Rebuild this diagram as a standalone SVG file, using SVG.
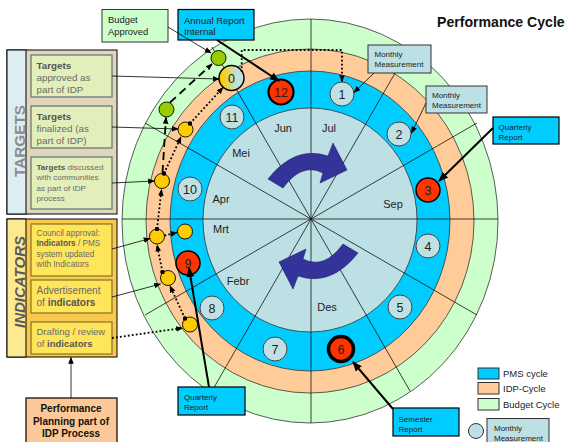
<svg xmlns="http://www.w3.org/2000/svg" width="565" height="442" viewBox="0 0 565 442">
<style>
text{font-family:"Liberation Sans",Arial,sans-serif}
.ring{stroke:#333;stroke-width:0.8}
.rad{stroke:#111;stroke-width:0.8;fill:none}
.mon{font-size:11px;fill:#222;text-anchor:middle}
.num{font-size:12.5px;fill:#222;text-anchor:middle}
.mc{fill:#bfe1e6;stroke:#444;stroke-width:1}
.rc{fill:#ff3300;stroke:#000;stroke-width:1.5}
.yc{fill:#ffcc00;stroke:#000;stroke-width:0.9}
.gc{fill:#99cc00;stroke:#000;stroke-width:0.9}
.ln{stroke:#000;stroke-width:0.8;fill:none}
.thick{stroke:#000;stroke-width:2;fill:none}
.dot{stroke:#000;stroke-width:1.8;stroke-dasharray:1.8 2.2;fill:none}
.dash{stroke:#000;stroke-width:1.8;stroke-dasharray:8 5;fill:none}
.tb{fill:#e2efbb;stroke:#5f7f78;stroke-width:1.3}
.ib{fill:#ffe55a;stroke:#8c7a2a;stroke-width:1.3}
.bt{fill:#6a6a6a}
.bb{font-weight:bold;fill:#555}
.sm{font-size:8px;fill:#222}
.cy{fill:#00ccff;stroke:#000;stroke-width:1.2}
.mm{fill:#bde0e4;stroke:#333;stroke-width:1}
.arw{fill:#333399;stroke:#22226a;stroke-width:0.6}
</style>
<defs>
<linearGradient id="g0" x1="0" y1="0" x2="1" y2="0"><stop offset="0.1" stop-color="#ffcc00"/><stop offset="0.75" stop-color="#bfe1e6"/></linearGradient>
<marker id="a" viewBox="0 0 10 10" refX="9" refY="5" markerWidth="7" markerHeight="7" orient="auto" markerUnits="userSpaceOnUse"><path d="M0,1 L10,5 L0,9 z" fill="#000"/></marker>
<marker id="ab" viewBox="0 0 10 10" refX="9" refY="5" markerWidth="10" markerHeight="10" orient="auto" markerUnits="userSpaceOnUse"><path d="M0,1 L10,5 L0,9 z" fill="#000"/></marker>
<marker id="d" viewBox="0 0 6 6" refX="3" refY="3" markerWidth="4.5" markerHeight="4.5" markerUnits="userSpaceOnUse"><circle cx="3" cy="3" r="3" fill="#000"/></marker>
</defs>
<rect width="565" height="442" fill="#fff"/>

<g id="wheel">
<ellipse id="ring-budget" class="ring" cx="310" cy="221" rx="188" ry="202" fill="#ccffcc"/>
<ellipse id="ring-idp" class="ring" cx="310" cy="221" rx="164" ry="172" fill="#ffcc99"/>
<ellipse id="ring-pms" class="ring" cx="310" cy="221" rx="140" ry="150" fill="#00ccff"/>
<ellipse id="ring-months" class="ring" cx="310" cy="220" rx="107" ry="112" fill="#bde0e5"/>
<g class="rad">
<line x1="122" y1="219" x2="498" y2="219"/>
<line x1="311" y1="19" x2="311" y2="423"/>
<line x1="145" y1="123" x2="477" y2="315"/>
<line x1="477" y1="123" x2="145" y2="315"/>
<line x1="212" y1="47" x2="410" y2="391"/>
<line x1="410" y1="47" x2="212" y2="391"/>
</g>
<text class="mon" x="329" y="132">Jul</text>
<text class="mon" x="283" y="132">Jun</text>
<text class="mon" x="241" y="157">Mei</text>
<text class="mon" x="221" y="203">Apr</text>
<text class="mon" x="221" y="233">Mrt</text>
<text class="mon" x="238" y="285">Febr</text>
<text class="mon" x="327" y="311">Des</text>
<text class="mon" x="393" y="208">Sep</text>
<path id="arrow-upper" class="arw" d="M268,179 Q295,145 328,156 L333,143 L347,170 L320,183 L323,173 Q302,162 283,188 Z"/>
<path id="arrow-lower" class="arw" d="M268,179 Q295,145 328,156 L333,143 L347,170 L320,183 L323,173 Q302,162 283,188 Z" transform="rotate(180 313 216)"/>
</g>

<g id="month-markers">
<g id="m1"><circle class="mc" cx="342" cy="94" r="12"/><text class="num" x="342" y="98.5">1</text></g>
<g id="m2"><circle class="mc" cx="399" cy="134" r="12"/><text class="num" x="399" y="138.5">2</text></g>
<g id="m3"><circle class="rc" cx="428" cy="190" r="12"/><text class="num" x="428" y="194.5">3</text></g>
<g id="m4"><circle class="mc" cx="428" cy="246" r="12"/><text class="num" x="428" y="250.5">4</text></g>
<g id="m5"><circle class="mc" cx="400" cy="307" r="12"/><text class="num" x="400" y="311.5">5</text></g>
<g id="m6"><circle class="rc" cx="341" cy="349" r="12.5" style="stroke-width:3.5"/><text class="num" x="341" y="353.5">6</text></g>
<g id="m7"><circle class="mc" cx="275" cy="349" r="12"/><text class="num" x="275" y="353.5">7</text></g>
<g id="m8"><circle class="mc" cx="212" cy="308" r="12"/><text class="num" x="212" y="312.5">8</text></g>
<g id="m9"><circle class="rc" cx="188" cy="263" r="12"/><text class="num" x="188" y="267.5">9</text></g>
<g id="m10"><circle class="mc" cx="190" cy="189" r="12"/><text class="num" x="190" y="193.5">10</text></g>
<g id="m11"><circle class="mc" cx="232" cy="117" r="12"/><text class="num" x="232" y="121.5">11</text></g>
<g id="m12"><circle class="rc" cx="281" cy="92" r="12.5" style="stroke-width:2.2"/><text class="num" x="281" y="96.5">12</text></g>
<g id="m0"><circle cx="231.5" cy="78" r="12.5" fill="url(#g0)" stroke="#000" stroke-width="1.5"/><text class="num" x="231.5" y="82.5">0</text></g>
</g>

<g id="step-markers">
<circle id="g1" class="gc" cx="218.5" cy="58" r="7.5"/>
<circle id="g2" class="gc" cx="166.5" cy="109.5" r="7.5"/>
<circle id="y1" class="yc" cx="185.5" cy="129.5" r="7.5"/>
<circle id="y2" class="yc" cx="162" cy="181" r="7.5"/>
<circle id="y3" class="yc" cx="157" cy="236.5" r="7.5"/>
<circle id="y4" class="yc" cx="185" cy="231.5" r="7.5"/>
<circle id="y5" class="yc" cx="168" cy="278" r="7.5"/>
<circle id="y6" class="yc" cx="190" cy="324.5" r="7.5"/>
</g>

<g id="targets-panel">
<rect x="7" y="50" width="110" height="164" fill="#e3d5bb" stroke="#000" stroke-width="1"/>
<rect x="7" y="50" width="19" height="164" fill="#ddeef2" stroke="#000" stroke-width="1"/>
<text transform="translate(24.5,141) rotate(-90)" text-anchor="middle" font-size="15" font-weight="bold" fill="#8b8b8b" textLength="72" lengthAdjust="spacingAndGlyphs">TARGETS</text>
<g id="box-targets-approved"><rect class="tb" x="31" y="55" width="81" height="42"/>
<text class="bt" font-size="9.8" x="36.5" y="69"><tspan class="bb">Targets</tspan></text>
<text class="bt" font-size="9.8" x="36.5" y="81">approved as</text>
<text class="bt" font-size="9.8" x="36.5" y="93">part of IDP</text></g>
<g id="box-targets-finalized"><rect class="tb" x="31" y="106" width="81" height="42"/>
<text class="bt" font-size="9.8" x="36.5" y="120"><tspan class="bb">Targets</tspan></text>
<text class="bt" font-size="9.8" x="36.5" y="132">finalized (as</text>
<text class="bt" font-size="9.8" x="36.5" y="144">part of IDP)</text></g>
<g id="box-targets-discussed"><rect class="tb" x="31" y="157" width="81" height="52"/>
<text class="bt" font-size="8.1" x="36.5" y="169.5"><tspan class="bb">Targets</tspan> discussed</text>
<text class="bt" font-size="8.1" x="36.5" y="180">with communities</text>
<text class="bt" font-size="8.1" x="36.5" y="190.5">as part of IDP</text>
<text class="bt" font-size="8.1" x="36.5" y="201">process</text></g>
</g>

<g id="indicators-panel">
<rect x="7" y="219" width="110" height="138" fill="#f9c94d" stroke="#000" stroke-width="1"/>
<rect x="7" y="219" width="19" height="138" fill="#fde98f" stroke="#000" stroke-width="1"/>
<text transform="translate(24.5,282) rotate(-90)" text-anchor="middle" font-size="15" font-weight="bold" font-style="italic" fill="#5a5a5a" textLength="92" lengthAdjust="spacingAndGlyphs">INDICATORS</text>
<g id="box-council"><rect class="ib" x="31" y="224" width="81" height="52"/>
<text class="bt" font-size="8.2" x="36.5" y="235.5">Council approval:</text>
<text class="bt" font-size="8.2" x="36.5" y="246"><tspan class="bb">Indicators</tspan> / PMS</text>
<text class="bt" font-size="8.2" x="36.5" y="256.5">system updated</text>
<text class="bt" font-size="8.2" x="36.5" y="267">with Indicators</text></g>
<g id="box-advertisement"><rect class="ib" x="31" y="280" width="81" height="33"/>
<text class="bt" font-size="10" x="36.5" y="293.5">Advertisement</text>
<text class="bt" font-size="10" x="36.5" y="306">of <tspan class="bb">indicators</tspan></text></g>
<g id="box-drafting"><rect class="ib" x="31" y="322" width="81" height="32"/>
<text class="bt" font-size="9.5" x="36.5" y="335">Drafting / review</text>
<text class="bt" font-size="9.5" x="36.5" y="347">of <tspan class="bb">indicators</tspan></text></g>
</g>

<g id="box-performance-planning">
<rect x="26" y="398" width="91" height="46" fill="#fbc997" stroke="#000" stroke-width="1.2"/>
<text x="71" y="412" font-size="10" font-weight="bold" fill="#111" text-anchor="middle">Performance</text>
<text x="71" y="424.5" font-size="10" font-weight="bold" fill="#111" text-anchor="middle">Planning part of</text>
<text x="71" y="437" font-size="10" font-weight="bold" fill="#111" text-anchor="middle">IDP Process</text>
</g>

<g id="box-budget-approved">
<rect x="102" y="9.5" width="66" height="32.5" fill="#ccffcc" stroke="#333" stroke-width="1"/>
<text x="108" y="23" font-size="9.4" fill="#222">Budget</text>
<text x="108" y="35" font-size="9.4" fill="#222">Approved</text>
</g>
<g id="box-annual-report">
<rect class="cy" x="178" y="9.5" width="76" height="30.5"/>
<text x="184" y="23.5" font-size="9.5" fill="#222">Annual Report</text>
<text x="184" y="35" font-size="9.5" fill="#222">Internal</text>
</g>
<g id="box-monthly-1">
<rect class="mm" x="368" y="45" width="63" height="28"/>
<text class="sm" x="374.5" y="57">Monthly</text>
<text class="sm" x="374.5" y="67">Measurement</text>
</g>
<g id="box-monthly-2">
<rect class="mm" x="426" y="86" width="61" height="27"/>
<text class="sm" x="432" y="98">Monthly</text>
<text class="sm" x="432" y="108">Measurement</text>
</g>
<g id="box-quarterly-right">
<rect class="cy" x="493" y="117" width="66" height="27"/>
<text class="sm" x="498.5" y="130">Quarterly</text>
<text class="sm" x="498.5" y="139.5">Report</text>
</g>
<g id="box-quarterly-bottom">
<rect class="cy" x="178" y="387" width="67" height="28"/>
<text class="sm" x="184" y="400">Quarterly</text>
<text class="sm" x="184" y="410">Report</text>
</g>
<g id="box-semester">
<rect class="cy" x="393" y="408" width="66" height="28"/>
<text class="sm" x="398.5" y="421.5">Semester</text>
<text class="sm" x="398.5" y="431.5">Report</text>
</g>

<g id="connectors">
<line class="ln" x1="168" y1="27" x2="211" y2="53" marker-end="url(#a)"/>
<line class="thick" x1="217" y1="40" x2="279" y2="81" marker-end="url(#ab)"/>
<line class="ln" x1="112" y1="76" x2="219" y2="79" marker-end="url(#a)"/>
<line class="ln" x1="112" y1="127" x2="178" y2="129" marker-end="url(#a)"/>
<line class="ln" x1="112" y1="183" x2="154.5" y2="181" marker-end="url(#a)"/>
<line class="ln" x1="112" y1="249" x2="150" y2="238.5" marker-end="url(#a)"/>
<line class="ln" x1="112" y1="297" x2="160.5" y2="284" marker-end="url(#a)"/>
<line class="dot" x1="112" y1="338" x2="182.5" y2="328" marker-end="url(#a)"/>
<line class="dot" x1="185" y1="318.5" x2="170" y2="286" marker-start="url(#d)" marker-end="url(#a)"/>
<line class="dot" x1="162.5" y1="272" x2="157" y2="245" marker-start="url(#d)" marker-end="url(#a)"/>
<line class="dot" x1="157" y1="229" x2="161.5" y2="189.5" marker-start="url(#d)" marker-end="url(#a)"/>
<line class="dot" x1="164" y1="173.5" x2="181" y2="137" marker-start="url(#d)" marker-end="url(#a)"/>
<line class="dot" x1="190" y1="123.5" x2="223" y2="87.5" marker-start="url(#d)" marker-end="url(#a)"/>
<line class="dot" x1="164.5" y1="235.5" x2="177" y2="232.5" marker-end="url(#a)"/>
<polyline class="dot" points="241.7,72 241.7,50 342,50 342,81.5" marker-end="url(#a)"/>
<line class="dash" x1="170" y1="102.5" x2="212" y2="64" marker-end="url(#a)"/>
<line class="dash" x1="162.5" y1="173" x2="166" y2="117.5" marker-end="url(#a)"/>
<line class="ln" x1="374" y1="73" x2="354" y2="92.5" marker-end="url(#a)"/>
<line class="ln" x1="426" y1="103" x2="411.5" y2="133" marker-end="url(#a)"/>
<line class="thick" x1="493" y1="128" x2="439" y2="181" marker-end="url(#ab)"/>
<line class="thick" x1="209" y1="387" x2="189" y2="268" marker-end="url(#ab)"/>
<line class="thick" x1="393" y1="409" x2="353" y2="362" marker-end="url(#ab)"/>
<line class="ln" x1="71" y1="398" x2="71" y2="357.5" marker-end="url(#a)"/>
</g>

<text id="title" x="437" y="27" font-size="14.1" font-weight="bold" fill="#111">Performance Cycle</text>

<g id="legend">
<rect x="478" y="368" width="21" height="11" fill="#00ccff" stroke="#333" stroke-width="1"/>
<text x="503" y="377" font-size="9.5" fill="#222">PMS cycle</text>
<rect x="478" y="382.5" width="21" height="11.5" fill="#ffcc99" stroke="#333" stroke-width="1"/>
<text x="503" y="392" font-size="9.5" fill="#222">IDP-Cycle</text>
<rect x="478" y="398.5" width="21" height="11.5" fill="#ccffcc" stroke="#333" stroke-width="1"/>
<text x="503" y="408" font-size="9.5" fill="#222">Budget Cycle</text>
<circle cx="476" cy="431" r="7.5" class="mm"/>
<rect class="mm" x="487" y="418.5" width="62" height="26"/>
<text class="sm" x="494" y="431">Monthly</text>
<text class="sm" x="494" y="441">Measurement</text>
</g>
</svg>
